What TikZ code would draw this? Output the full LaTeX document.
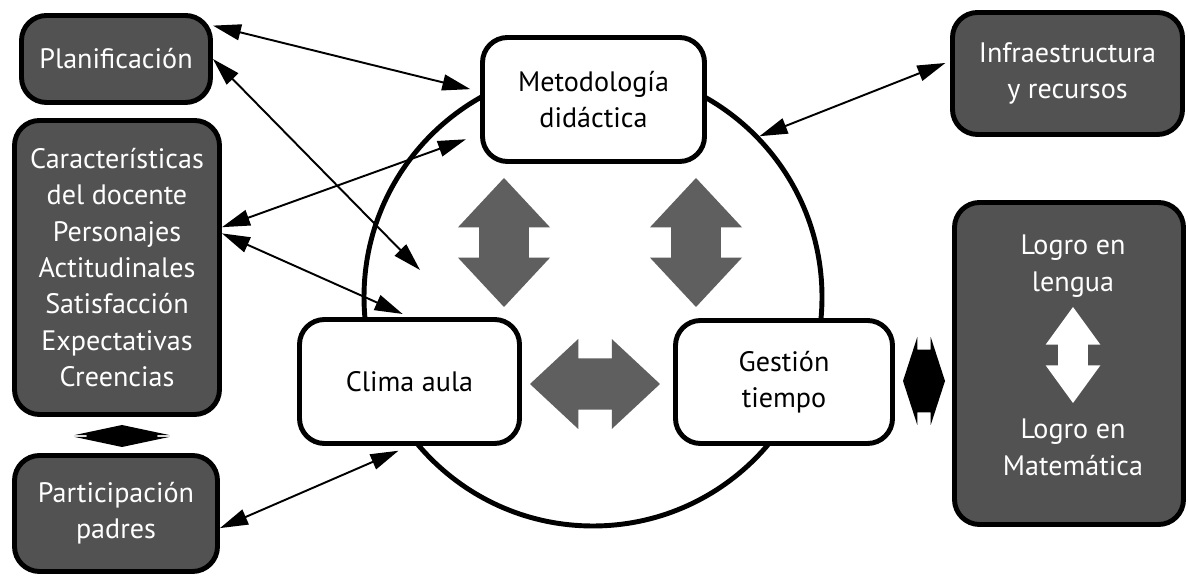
\documentclass[tikz,border=0pt]{standalone}
\usepackage{fontspec}
\setmainfont{PT Sans}
\usepackage{xcolor}
\usetikzlibrary{shapes.arrows,arrows.meta}

\definecolor{boxgray}{HTML}{525252}
\definecolor{arrowgray}{HTML}{5F5F5F}

\begin{document}
\begin{tikzpicture}[
    font=\fontsize{16pt}{20.7pt}\selectfont,
    darkbox/.style={draw, line width=2.8pt, rounded corners=0.5cm, fill=boxgray, text=white, align=center, inner sep=0pt},
    lightbox/.style={draw, line width=2.8pt, rounded corners=0.5cm, fill=white, align=center, inner sep=0pt},
    link/.style={<->, >={Triangle[length=0.56cm, width=0.32cm]}, line width=1.1pt},
    bigarrow/.style={double arrow, fill=arrowgray, inner xsep=0pt, double arrow tip angle=86},
]

% Page
\path[fill=white, use as bounding box] (0,0) rectangle (23.76,11.52);

% Central cycle
\node[draw, circle, line width=2.8pt, minimum size=9.16cm] (ring) at (11.86, 5.58) {};

% Classroom processes
\node[lightbox, minimum width=4.44cm, minimum height=2.48cm] (metod) at (11.87, 9.53) {Metodología\\didáctica};
\node[lightbox, minimum width=4.4cm, minimum height=2.48cm] (clima) at (8.19, 3.89) {Clima aula};
\node[lightbox, minimum width=4.34cm, minimum height=2.46cm] (gestion) at (15.68, 3.88) {Gestión\\tiempo};

% Big arrows inside the cycle
\node[bigarrow, rotate=90, inner ysep=0.29cm, minimum height=2.58cm, minimum width=1.84cm] (mc) at (10.08, 6.67) {};
\node[bigarrow, rotate=90, inner ysep=0.29cm, minimum height=2.58cm, minimum width=1.84cm] (mg) at (13.92, 6.67) {};
\node[bigarrow, inner ysep=0.32cm, minimum height=2.6cm, minimum width=1.8cm] (cg) at (11.9, 3.84) {};

% Left column
\node[darkbox, minimum width=3.78cm, minimum height=1.74cm] (plan) at (2.32, 10.34) {Planificación};
\node[darkbox, minimum width=4.1cm, minimum height=5.88cm] (carac) at (2.34, 6.17)
      {Características\\del docente\\Personajes\\Actitudinales\\Satisfacción\\Expectativas\\Creencias};
\node[darkbox, minimum width=4.06cm, minimum height=2.32cm] (padres) at (2.32, 1.25) {Participación\\padres};
\node[double arrow, fill=black, inner xsep=0pt, inner ysep=0.7cm, rotate=90, minimum height=0.44cm, minimum width=1.8cm,
      double arrow tip angle=156] (cp) at (2.44, 2.8) {};

% Right column
\node[darkbox, minimum width=4.6cm, minimum height=2.44cm] (infra) at (21.35, 10.05) {Infraestructura\\y recursos};
\node[darkbox, minimum width=4.58cm, minimum height=6.44cm] (logro) at (21.38, 4.25) {};
\node[text=white, align=center] (lengua) at (21.46, 6.2) {Logro en\\lengua};
\node[text=white, align=center] (mate) at (21.46, 2.57) {Logro en\\Matemática};
\node[double arrow, fill=white, inner xsep=0pt, inner ysep=0.29cm, rotate=90, minimum height=1.92cm, minimum width=1cm,
      double arrow tip angle=72] (lm) at (21.46, 4.42) {};
\node[double arrow, fill=black, inner xsep=0pt, inner ysep=0.62cm, minimum height=0.84cm, minimum width=1.76cm,
      double arrow tip angle=144] (gl) at (18.48, 3.9) {};

% Connectors
\coordinate (climaup) at (8.4, 6.12);
\draw[link, shorten >=0.2cm] (plan.19) -- (metod.176);
\draw[link] (plan.east) -- (climaup);
\draw[link, shorten >=0.3cm] (carac.21) -- (metod.197);
\draw[link, shorten >=0.15cm] (carac.18) -- (clima.north);
\draw[link, shorten >=0.24cm] (padres.-8) -- (clima.south);
\draw[link, shorten >=0.1cm] (ring.44) -- (infra.174);

\end{tikzpicture}
\end{document}
